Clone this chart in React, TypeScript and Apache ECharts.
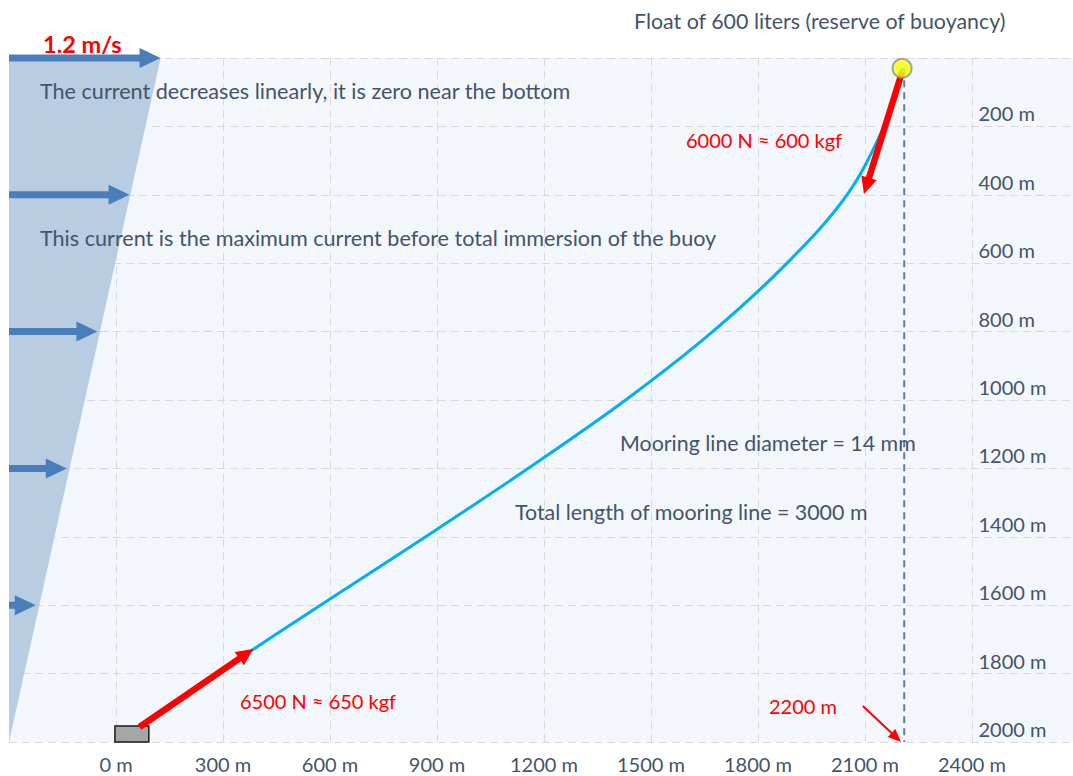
import React, { useEffect, useRef } from "react";
import * as echarts from "echarts";

// ---- data (metres: x = horizontal distance, y = depth) ----
const xTicks = [-300, 0, 300, 600, 900, 1200, 1500, 1800, 2100, 2400, 2700];
const depthTicks = [0, 200, 400, 600, 800, 1000, 1200, 1400, 1600, 1800, 2000];

// mooring line shape [x, depth]
const mooringLine: number[][] = [
  [66, 1956], [382, 1731], [897, 1380], [1157, 1199], [1429, 1000],
  [1672, 801], [1882, 599], [2049, 401], [2153, 202], [2184, 102], [2204, 29],
];

// current profile (triangle): max at surface, zero near the bottom
const currentProfile: number[][] = [[125, 0], [-300, 2000]];
// current arrows: [xStart, depth, xTip, depth]
const currentArrows: number[][] = [
  [-300, 0, 125, 0],
  [-300, 400, 38, 400],
  [-300, 800, -52, 800],
  [-300, 1200, -138, 1200],
  [-300, 1600, -225, 1600],
];

// force arrows: [x1, d1, x2, d2]
const forceArrows: number[][] = [
  [2204, 41, 2097, 398],
  [66, 1956, 385, 1728],
];
const pointerArrow: number[][] = [[2094, 1895, 2201, 2000]];

const buoy: number[][] = [[2204, 30]];
const buoyVertical: number[][] = [[2210, 30], [2210, 2000]];
const anchorBox: number[][] = [[-3, 1953, 92, 2000]];

const TEXT = "#44546A";
const RED = "#FF0000";
const FONT = "Lato, 'Open Sans', sans-serif";

function arrowRenderer(shaft: number, headLen: number, headW: number, color: string) {
  return (_params: any, api: any) => {
    const p1 = api.coord([api.value(0), api.value(1)]);
    const p2 = api.coord([api.value(2), api.value(3)]);
    const dx = p2[0] - p1[0];
    const dy = p2[1] - p1[1];
    const L = Math.hypot(dx, dy) || 1;
    const ux = dx / L, uy = dy / L;
    const nx = -uy, ny = ux;
    const bx = p2[0] - ux * headLen, by = p2[1] - uy * headLen;
    const s = shaft / 2, h = headW / 2;
    const points = [
      [p1[0] + nx * s, p1[1] + ny * s],
      [bx + nx * s, by + ny * s],
      [bx + nx * h, by + ny * h],
      [p2[0], p2[1]],
      [bx - nx * h, by - ny * h],
      [bx - nx * s, by - ny * s],
      [p1[0] - nx * s, p1[1] - ny * s],
    ];
    return { type: "polygon", shape: { points }, style: { fill: color } };
  };
}

function txt(text: string, x: number, y: number, fill: string, size: number, weight = "normal") {
  return {
    type: "text",
    x,
    y,
    z: 100,
    style: {
      text,
      fill,
      font: `${weight} ${size}px ${FONT}`,
      align: "left",
      verticalAlign: "middle",
    },
  };
}

export default function App() {
  const ref = useRef<HTMLDivElement>(null);
  useEffect(() => {
    if (!ref.current) return;
    const chart = echarts.init(ref.current, undefined, { renderer: "svg" });
    const option: any = {
      animation: false,
      backgroundColor: "#FFFFFF",
      grid: {
        left: 9,
        right: 0.5,
        top: 58,
        bottom: 34,
        show: true,
        backgroundColor: "#F3F6FA",
        borderWidth: 0,
        containLabel: false,
      },
      xAxis: {
        type: "value",
        min: xTicks[0],
        max: xTicks[xTicks.length - 1],
        interval: 300,
        axisLine: { show: false },
        axisTick: { show: false },
        axisLabel: {
          margin: 12,
          color: TEXT,
          fontFamily: FONT,
          fontSize: 20,
          formatter: (v: number) => (v < 0 || v > 2400 ? "" : `${v} m`),
        },
        splitLine: { show: true, lineStyle: { color: "#D9D9D9", width: 1, type: [8, 5] } },
      },
      yAxis: {
        type: "value",
        inverse: true,
        position: "right",
        min: depthTicks[0],
        max: depthTicks[depthTicks.length - 1],
        interval: 200,
        axisLine: { show: false },
        axisTick: { show: false },
        axisLabel: {
          margin: -100.5,
          align: "left",
          verticalAlign: "bottom",
          padding: [0, 0, 3, 0],
          color: TEXT,
          fontFamily: FONT,
          fontSize: 20,
          formatter: (v: number) => (v === 0 ? "" : `${v} m`),
        },
        splitLine: { show: true, lineStyle: { color: "#D9D9D9", width: 1, type: [8, 5] } },
      },
      series: [
        {
          name: "current",
          type: "line",
          data: currentProfile,
          symbol: "none",
          lineStyle: { width: 0 },
          areaStyle: { color: "#B8CCE2", opacity: 1, origin: "start" },
          z: 2,
        },
        {
          name: "currentArrows",
          type: "custom",
          data: currentArrows,
          renderItem: arrowRenderer(7, 21, 20, "#4A7EBA"),
          z: 3,
        },
        {
          name: "vertical",
          type: "line",
          data: buoyVertical,
          symbol: "none",
          lineStyle: { color: "#5B7DA8", width: 2, type: [7, 5] },
          z: 3,
        },
        {
          name: "mooring",
          type: "line",
          data: mooringLine,
          symbol: "none",
          smooth: 0.35,
          lineStyle: { color: "#00B0F0", width: 3 },
          z: 4,
        },
        {
          name: "anchor",
          type: "custom",
          data: anchorBox,
          renderItem: (_p: any, api: any) => {
            const a = api.coord([api.value(0), api.value(1)]);
            const b = api.coord([api.value(2), api.value(3)]);
            return {
              type: "rect",
              shape: { x: a[0], y: a[1], width: b[0] - a[0], height: b[1] - a[1] },
              style: { fill: "#A6A6A6", stroke: "#1A1A1A", lineWidth: 1.5 },
            };
          },
          z: 5,
        },
        {
          name: "forces",
          type: "custom",
          data: forceArrows,
          renderItem: arrowRenderer(6.5, 17, 16, RED),
          z: 6,
        },
        {
          name: "pointer",
          type: "custom",
          data: pointerArrow,
          renderItem: arrowRenderer(2, 13, 11, RED),
          z: 6,
        },
        {
          name: "buoy",
          type: "scatter",
          data: buoy,
          symbol: "circle",
          symbolSize: 19,
          itemStyle: { color: "#FFFF00", borderColor: "#7A93A8", borderWidth: 2 },
          z: 7,
        },
      ],
      graphic: [
        txt("1.2 m/s", 43, 44, RED, 23.5, "bold"),
        txt("Float of 600 liters (reserve of buoyancy)", 634, 21, TEXT, 21.4),
        txt("The current decreases linearly, it is zero near the bottom", 40, 91, TEXT, 21.6),
        txt("This current is the maximum current before total immersion of the buoy", 40, 238, TEXT, 21.6),
        txt("6000 N \u2248 600 kgf", 686, 140, RED, 20),
        txt("Mooring line diameter = 14 mm", 620, 443, TEXT, 21.4),
        txt("Total length of mooring line = 3000 m", 515, 512, TEXT, 21.4),
        txt("6500 N \u2248 650 kgf", 240, 701, RED, 20),
        txt("2200 m", 769, 706, RED, 20),
      ],
    };
    chart.setOption(option);
    return () => chart.dispose();
  }, []);
  return (
    <div style={{ position: "fixed", left: 0, top: 0, width: 1073, height: 776, overflow: "hidden" }}>
      <div ref={ref} style={{ width: 1082, height: 776 }} />
    </div>
  );
}
